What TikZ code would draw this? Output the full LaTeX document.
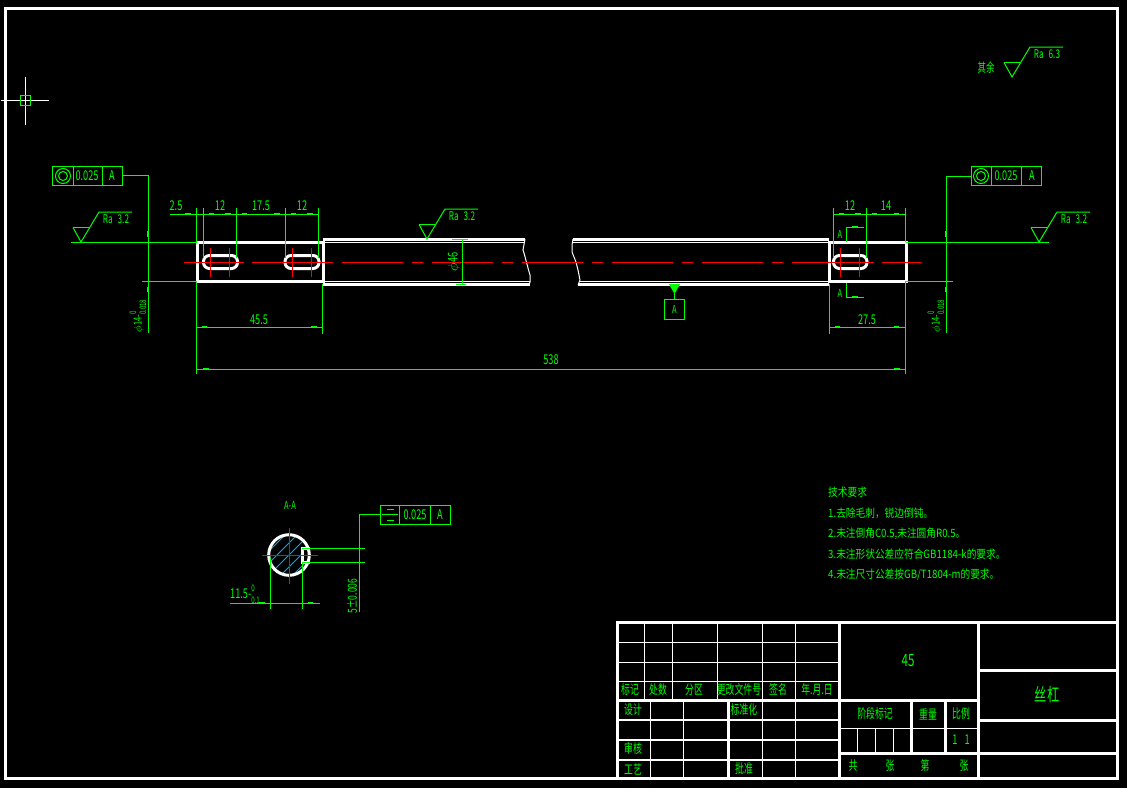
\documentclass[tikz,border=0pt]{standalone}
\usepackage{fontspec}
\setmainfont{Noto Sans CJK SC}
\newfontfamily\cadn[FakeStretch=0.68]{Noto Sans CJK SC}
\newfontfamily\cadw[FakeStretch=0.85]{Noto Sans CJK SC}
\newcommand{\tolstack}[2]{\begin{tabular}{@{}l@{}}\fontsize{9}{8}\selectfont #1\\[-1pt]\fontsize{9}{8}\selectfont #2\end{tabular}}
\begin{document}
\begin{tikzpicture}[x = 1pt, y = -1pt, line cap = butt,
  thickw/.style = {white, line width = 3pt},
  midw/.style = {white, line width = 2.6pt},
  thinw/.style = {white, line width = 1pt},
  dim/.style = {green, line width = 1pt},
  tick/.style = {green, line width = 2pt},
  axis/.style = {red, line width = 1pt},
  lab/.style = {text = green, inner sep = 0pt, font = \cadn\fontsize{13.5}{13}\selectfont},
  sm/.style = {text = green, inner sep = 0pt, font = \cadn\fontsize{11}{11}\selectfont},
  cjk/.style = {text = green, inner sep = 0pt, font = \cadn\fontsize{13}{13}\selectfont},
  note/.style = {text = green, inner sep = 0pt, anchor = west, font = \cadw\fontsize{11.4}{12}\selectfont},
  fcf/.style = {draw = green, line width = 1pt, minimum width = 70pt, minimum height = 19pt, inner sep = 0pt}]
\useasboundingbox (0, 0) rectangle (1127, 788);
\fill [black] (0, 0) rectangle (1127, 788);

% frame and crosshair
\draw [thickw] (5.5, 8) rectangle (1117, 778);
\draw [thinw] (1, 100.5) -- (49, 100.5);
\draw [thinw] (25.5, 77) -- (25.5, 125);
\draw [green, line width = 1pt] (20.5, 95.5) rectangle (30.5, 105.5);

% title block
\draw [thickw] (617, 622) rectangle (1117, 778);
\draw [thickw] (617, 700) -- (978, 700);
\draw [thickw] (839, 622) -- (839, 778);
\draw [thickw] (978, 622) -- (978, 778);
\foreach \y in {720, 740, 760} \draw [midw] (617, \y) -- (839, \y);
\foreach \y in {642.5, 662.5, 681.5} \draw [thinw] (617, \y) -- (839, \y);
\foreach \x in {644.5, 672.5, 717.5, 762.5, 795.5} \draw [thinw] (\x, 622) -- (\x, 700);
\foreach \x in {650.5, 683.5, 762.5, 795.5} \draw [thinw] (\x, 700) -- (\x, 778);
\draw [thickw] (728, 700) -- (728, 778);
\draw [thickw] (839, 753) -- (978, 753);
\draw [thinw] (839, 728.5) -- (978, 728.5);
\foreach \x in {911, 945} \draw [thickw] (\x, 700) -- (\x, 753);
\foreach \x in {857.5, 875.5, 893.5} \draw [thinw] (\x, 728) -- (\x, 753);
\foreach \y in {670, 720, 753} \draw [thickw] (978, \y) -- (1117, \y);

\foreach \x/\y/\t [count = \i] in {630/690/标记, 658/690/处数, 694/690/分区, 739/690/更改文件号, 778/690/签名,
  817/690/年.月.日, 633/710/设计, 744/710/标准化, 633/749/审核, 633/769/工艺, 744/769/批准,
  875/714/阶段标记, 928/714/重量, 961/714/比例, 853/766/共, 890/766/张, 925/766/第, 964/766/张}
  \node [cjk] (title\i) at (\x, \y) {\t};
\node [lab, font = \cadn\fontsize{17}{17}\selectfont] (matl) at (908, 661) {45};
\node [cjk, font = \cadn\fontsize{18}{18}\selectfont] (partname) at (1047, 695) {丝杠};
\node [lab] (ratio) at (961, 740) {1\hspace{7pt}1};

% notes
\node [note] (note0) at (828, 492) {技术要求};
\node [note] (note1) at (828, 513) {1.去除毛刺，锐边倒钝。};
\node [note] (note2) at (828, 533.5) {2.未注倒角C0.5,未注圆角R0.5。};
\node [note] (note3) at (828, 554) {3.未注形状公差应符合GB1184-k的要求。};
\node [note] (note4) at (828, 574.5) {4.未注尺寸公差按GB/T1804-m的要求。};

% shaft
\draw [thickw] (197, 242) rectangle (323, 281);
\draw [thickw] (829, 242) rectangle (906, 281);
\draw [thickw] (323, 239) -- (525, 239);
\draw [thickw] (323, 284) -- (530, 284);
\draw [thickw] (573, 239) -- (829, 239);
\draw [thickw] (578, 284) -- (829, 284);
\draw [thinw] (323, 242.5) -- (524, 242.5);
\draw [thinw] (323, 281) -- (530, 281);
\draw [thinw] (572, 242.5) -- (829, 242.5);
\draw [thinw] (579, 281) -- (829, 281);
\draw [thinw] (525, 239) -- (523, 250) -- (524, 253) -- (528, 268) -- (530, 275) -- (530, 282) -- (529, 285);
\draw [thinw] (573, 239) -- (572, 245) -- (572, 252) -- (576, 262) -- (578, 270) -- (580, 280) -- (578, 285);
\foreach \a/\b in {203.5/237.5, 285/319, 833.5/867}
  \draw [thickw, rounded corners = 6pt] (\a, 255.5) rectangle (\b, 268.5);

% centre lines
\foreach \a/\b in {184/244, 252/333, 342/403, 412/423, 432/493, 502/513, 522/583, 592/603,
  612/673, 682/693, 702/763, 772/783, 792/874, 882/921}
  \draw [axis] (\a, 262.5) -- (\b, 262.5);
\foreach \x in {210.5, 229.5, 292.5, 311.5, 840.5, 859.5} \draw [axis] (\x, 248) -- (\x, 277);

% extension and dimension lines
\draw [dim] (170, 214.5) -- (318, 214.5);
\draw [dim] (833, 214.5) -- (906, 214.5);
\foreach \x/\y in {196.5/242, 203.5/258, 236.5/258, 285.5/258, 318.5/258, 833.5/258, 866.5/258, 905.5/242}
  \draw [dim] (\x, 208) -- (\x, \y);
\draw [dim] (197, 327.5) -- (323, 327.5);
\draw [dim] (829, 327.5) -- (906, 327.5);
\draw [dim] (197, 369.5) -- (906, 369.5);
\draw [dim] (196.5, 281) -- (196.5, 374);
\draw [dim] (905.5, 281) -- (905.5, 374);
\draw [dim] (322.5, 284) -- (322.5, 334);
\draw [dim] (829.5, 284) -- (829.5, 334);
\foreach \a/\b/\y in {185/191/214, 209/214/214, 225/231/214, 242/247/214, 274/280/214, 291/296/214, 307/313/214,
  839/844/214, 855/861/214, 872/877/214, 894/899/214, 202/207/327, 311/317/327, 835/840/327, 894/899/327,
  203/209/369, 894/900/369, 852/858/227, 852/858/297}
  \draw [tick] (\a, \y) -- (\b, \y);
\foreach \x/\y/\t [count = \i] in {176/206/2.5, 220/206/12, 261/206/17.5, 302/206/12, 850/206/12, 886/206/14,
  259/320/45.5, 867/320/27.5, 551/360/538}
  \node [lab] (dimlab\i) at (\x, \y) {\t};

% section marks
\draw [dim] (846.5, 242) -- (846.5, 227.5) -- (864, 227.5);
\draw [dim] (846.5, 283) -- (846.5, 297.5) -- (864, 297.5);
\node [sm] (markA) at (840, 234) {A};
\node [sm] (markB) at (840, 293) {A};

% tolerance frames and leaders
\node [fcf] (fcfL) at (87.5, 175.5) {};
\node [fcf] (fcfR) at (1006, 176) {};
\coordinate (legL) at (148.5, 333);
\coordinate (legR) at (946.5, 333);
\draw [dim] (fcfL.east) -| (legL);
\draw [dim] (fcfR.west) -| (legR);
\foreach \x/\s in {73.5/102.5, 991.5/1021.5} {
  \draw [dim] (\x, 166) -- (\x, 185.5);
  \draw [dim] (\s, 166) -- (\s, 185.5);
}
\foreach \x in {63, 981} {
  \draw [dim] (\x, 176) circle [radius = 7.5pt];
  \draw [dim] (\x, 176) circle [radius = 4.5pt];
}
\foreach \x/\y/\t [count = \i] in {87/176/0.025, 112/176/A, 1006/176/0.025, 1032/176/A, 415/515/0.025, 440/515/A}
  \node [lab] (fcflab\i) at (\x, \y) {\t};
\foreach \x in {147.5, 945.5} {
  \draw [tick] (\x, 231) -- (\x, 237);
  \draw [tick] (\x, 287) -- (\x, 292);
}
\draw [dim] (71, 242.5) -- (197, 242.5);
\draw [dim] (142, 281.5) -- (197, 281.5);
\draw [dim] (906, 242.5) -- (1049, 242.5);
\draw [dim] (906, 281.5) -- (953, 281.5);
\node [sm, rotate = 90] (phiL) at (139, 316) {\(\phi\)14-\tolstack{0}{0.018}};
\node [sm, rotate = 90] (phiR) at (937, 316) {\(\phi\)14-\tolstack{0}{0.018}};

% roughness marks
\foreach \x/\y/\t [count = \i] in {81/242/3.2, 427/239/3.2, 1039/242/3.2, 1012/77/6.3} {
  \draw [dim] (\x - 8, \y - 14.5) -- (\x + 9, \y - 14.5);
  \draw [dim] (\x - 8, \y - 14.5) -- (\x, \y) -- (\x + 18, \y - 30) -- (\x + 51, \y - 30);
  \node [sm, font = \cadn\fontsize{12}{12}\selectfont] (rough\i) at (\x + 35, \y - 23) {Ra\hspace{5pt}\t};
}
\node [cjk, font = \cadn\fontsize{12.5}{12}\selectfont] (rest) at (986, 68) {其余};

% diameter and datum
\draw [dim] (462.5, 239) -- (462.5, 284);
\draw [dim] (452, 239.5) -- (468, 239.5);
\draw [dim] (456, 284.5) -- (466, 284.5);
\node [lab, rotate = 90] (phimid) at (454, 262) {\(\phi\)46};
\node [fcf, minimum width = 20pt, minimum height = 20pt] (datum) at (674.5, 309.5) {};
\node [sm] (datumA) at (674.5, 309) {A};
\coordinate (datumtip) at (674.5, 290);
\draw [dim] (datum.north) -- (datumtip);
\fill [green] (669, 284) -- (680, 284) -- (674.5, 294) -- cycle;

% section A-A
\node [sm] (secname) at (290, 505) {A-A};
\begin{scope}
\clip (289, 555) circle [radius = 20pt];
\foreach \h in {-36, -24, ..., 36}
  \draw [cyan, line width = .9pt] (289 + \h - 30, 585) -- (289 + \h + 30, 525);
\end{scope}
\fill [black] (302, 548) rectangle (310, 562);
\draw [thickw] (310, 548) -- (302.5, 548) -- (302.5, 562) -- (310, 562);
\draw [thickw] (289, 555) circle [radius = 20.3pt];
\draw [axis] (262, 555.5) -- (318, 555.5);
\draw [axis] (289.5, 528) -- (289.5, 584);
\draw [dim] (302, 548.5) -- (365, 548.5);
\draw [dim] (302, 562.5) -- (365, 562.5);
\draw [dim] (270.5, 557) -- (270.5, 609);
\draw [dim] (302.5, 562) -- (302.5, 609);
\draw [dim] (230, 603.5) -- (320, 603.5);
\foreach \a/\b in {259/265, 308/313} \draw [tick] (\a, 603) -- (\b, 603);
\node [lab] (secdim) at (245, 595) {11.5-\tolstack{0}{0.1}};
\node [sm, font = \cadn\fontsize{12.5}{12}\selectfont, rotate = 90] (keydim) at (352, 596) {5±0.006};
\node [fcf] (fcfS) at (415, 514.5) {};
\coordinate (legS) at (359.5, 612);
\draw [dim] (fcfS.west) -| (legS);
\foreach \x in {399.5, 430.5} \draw [dim] (\x, 505) -- (\x, 524);
\draw [dim] (387, 509.5) -- (394, 509.5);
\draw [dim] (382, 514.5) -- (398, 514.5);
\draw [dim] (387, 520.5) -- (394, 520.5);
\end{tikzpicture}
\end{document}
